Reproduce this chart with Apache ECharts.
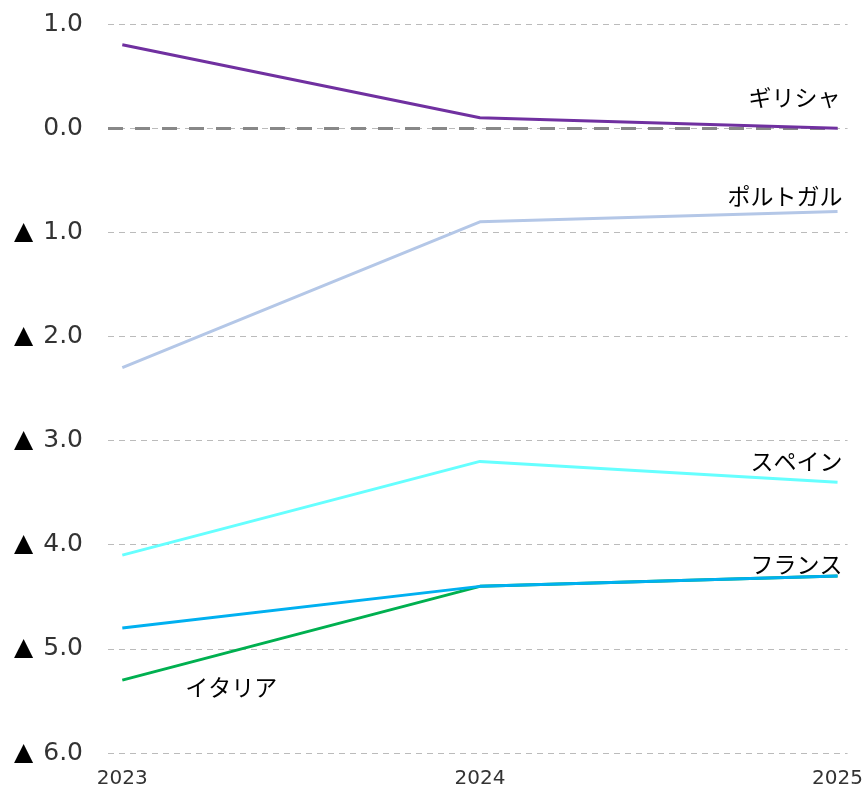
<!DOCTYPE html>
<html><head><meta charset="utf-8">
<script src="https://cdn.jsdelivr.net/npm/echarts@6/dist/echarts.min.js"></script>
<style>html,body{margin:0;padding:0;background:#fff}#c{width:866px;height:796px}</style>
</head><body><div id="c"></div>
<script>
const years = [2023, 2024, 2025];
const yTicks = [1, 0, -1, -2, -3, -4, -5, -6];
const greece = [0.8, 0.1, 0.0];
const portugal = [-2.3, -0.9, -0.8];
const spain = [-4.1, -3.2, -3.4];
const france = [-4.8, -4.4, -4.3];
const italy = [-5.3, -4.4, -4.3];

const seriesDefs = [
  {name: 'ポルトガル', data: portugal, color: '#B4C7E7', at: 2, off: [5, -15], align: 'right'},
  {name: 'スペイン', data: spain, color: '#66FFFF', at: 2, off: [5, -21], align: 'right'},
  {name: 'イタリア', data: italy, color: '#00B050', at: 0, off: [63, 7], align: 'left'},
  {name: 'フランス', data: france, color: '#00B0F0', at: 2, off: [5, -12], align: 'right'},
  {name: 'ギリシャ', data: greece, color: '#7030A0', at: 2, off: [3, -31], align: 'right'}
];

const chart = echarts.init(document.getElementById('c'));
const series = seriesDefs.map((s, i) => ({
  name: s.name,
  type: 'line',
  data: years.map((y, k) => [y, s.data[k]]),
  showSymbol: false,
  symbol: 'none',
  lineStyle: {color: s.color, width: 3},
  itemStyle: {color: s.color},
  z: 3 + i,
  silent: true,
  animation: false,
  markPoint: {
    silent: true,
    symbol: 'circle',
    symbolSize: 0,
    animation: false,
    data: [{
      coord: [years[s.at], s.data[s.at]],
      label: {
        show: true,
        formatter: s.name,
        position: 'inside',
        align: s.align,
        verticalAlign: 'middle',
        offset: s.off,
        color: '#000',
        fontSize: 23,
        fontFamily: 'Noto Sans CJK JP'
      }
    }]
  }
}));
series.unshift({
  type: 'line',
  data: [],
  silent: true,
  z: 2,
  markLine: {
    silent: true,
    symbol: 'none',
    animation: false,
    label: {show: false},
    lineStyle: {color: '#888', width: 3, type: [15, 12]},
    data: [[{coord: [2022.96, 0]}, {coord: [years[2], 0]}]]
  }
});

chart.setOption({
  animation: false,
  grid: {left: 108, right: 18, top: 24, bottom: 43, containLabel: false},
  xAxis: {
    type: 'value',
    min: 2022.96,
    max: 2025.028,
    axisLine: {show: false},
    axisTick: {show: false},
    splitLine: {show: false},
    axisLabel: {
      customValues: years,
      formatter: v => String(v),
      color: '#333',
      fontSize: 20,
      fontFamily: 'DejaVu Sans',
      margin: 16
    }
  },
  yAxis: {
    type: 'value',
    min: -6,
    max: 1,
    interval: 1,
    axisLine: {show: false},
    axisTick: {show: false},
    splitLine: {lineStyle: {color: '#bbb', width: 1, type: [6, 5]}},
    axisLabel: {
      margin: 25,
      fontSize: 25,
      fontFamily: 'DejaVu Sans',
      color: '#333',
      formatter: v => v < 0 ? '{t|▲}{n|' + Math.abs(v).toFixed(1) + '}' : '{n|' + v.toFixed(1) + '}',
      rich: {
        t: {color: '#000', fontSize: 25, fontFamily: 'DejaVu Sans', padding: [0, 10, 0, 0]},
        n: {color: '#333', fontSize: 25, fontFamily: 'DejaVu Sans'}
      }
    }
  },
  series: series
});
</script>
</body></html>
